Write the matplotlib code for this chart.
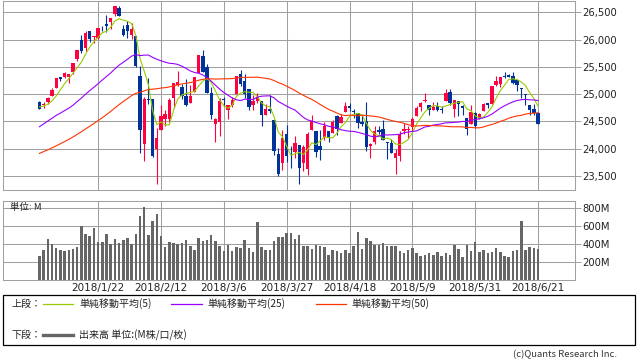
import numpy as np
import pandas as pd
import matplotlib
matplotlib.use("Agg")
import matplotlib.pyplot as plt
from matplotlib.patches import Rectangle
from matplotlib.lines import Line2D
from matplotlib.ticker import FuncFormatter

# trading days 2017/12/29 - 2018/6/21 (US market holidays removed)
holidays = ["2018-01-01", "2018-01-15", "2018-02-19", "2018-03-30", "2018-05-28"]
dates = [d for d in pd.bdate_range("2017-12-29", "2018-06-21") if d.strftime("%Y-%m-%d") not in holidays]

tick_labels = ["2018/1/22", "2018/2/12", "2018/3/6", "2018/3/27",
               "2018/4/18", "2018/5/9", "2018/5/31", "2018/6/21"]

open_ = [24849.6, 24809.4, 24850.5, 24964.9, 25114.9, 25308.4, 25312.0, 25310.0, 25400.9, 25638.6,
         25987.4, 25850.0, 26149.6, 26046.0, 26025.3, 26214.0, 26290.0, 26313.1, 26466.7, 26584.3,
         26198.5, 26268.2, 26083.0, 26061.8, 25337.8, 24085.2, 24916.0, 24902.3, 23992.7, 24337.8,
         24540.3, 24535.8, 24923.7, 25165.9, 25124.9, 24960.8, 24838.3, 25032.0, 25379.3, 25697.3,
         25495.9, 25024.0, 24456.8, 24497.9, 24910.3, 24707.0, 24795.7, 24998.7, 25373.7, 25240.5,
         25087.7, 24795.1, 24877.7, 24879.6, 24625.5, 24721.5, 24527.2, 23905.9, 23737.1, 24261.8,
         23849.5, 23933.0, 24076.6, 23736.9, 23621.7, 24342.6, 24325.5, 24052.6, 24214.6, 24316.2,
         24295.2, 24601.2, 24468.9, 24674.2, 24789.3, 24690.3, 24654.1, 24488.3, 24508.6, 24049.7,
         24123.1, 24336.2, 24356.6, 24117.3, 24097.6, 23836.2, 23865.6, 24317.7, 24341.4, 24399.2,
         24591.8, 24765.5, 24870.3, 24801.8, 24712.3, 24780.6, 24724.0, 24883.2, 25047.6, 24725.8,
         24877.8, 24784.0, 24557.0, 24458.4, 24647.8, 24542.1, 24687.8, 24828.8, 24823.3, 25165.4,
         25185.9, 25336.6, 25346.6, 25335.9, 25250.5, 25114.0, 25003.9, 24803.1, 24722.3, 24654.7]
high = [24871.3, 24864.2, 24941.9, 25105.9, 25299.8, 25311.0, 25401.3, 25376.4, 25574.7, 25810.0,
        26086.0, 26153.4, 26153.4, 26072.0, 26214.6, 26250.5, 26458.8, 26392.8, 26616.7, 26608.5,
        26275.8, 26338.7, 26306.7, 26061.8, 25520.0, 24946.2, 25293.4, 24903.7, 24382.1, 24797.3,
        24705.7, 24925.9, 25203.0, 25432.4, 25183.3, 25268.2, 25170.1, 25310.0, 25709.3, 25800.4,
        25551.1, 25122.0, 24563.6, 24934.6, 24946.6, 24806.0, 24946.3, 25336.9, 25449.2, 25376.4,
        25090.7, 24984.2, 25029.5, 24880.3, 24817.4, 24984.4, 24527.2, 24017.2, 24337.4, 24439.2,
        24050.3, 24224.5, 24076.6, 24073.8, 24313.0, 24622.7, 24325.5, 24347.1, 24482.7, 24316.2,
        24532.4, 24615.2, 24634.0, 24859.0, 24837.9, 24722.7, 24654.1, 24608.9, 24859.0, 24107.7,
        24418.2, 24411.4, 24534.9, 24117.3, 24186.9, 23996.2, 24333.4, 24479.5, 24412.3, 24586.5,
        24784.7, 24856.2, 25012.4, 24801.8, 24858.1, 24858.5, 24782.2, 25086.5, 25086.5, 24889.9,
        24877.8, 24809.3, 24557.0, 24808.0, 24679.7, 24658.0, 24834.4, 24833.0, 25149.1, 25326.8,
        25317.0, 25402.8, 25366.8, 25404.6, 25255.4, 25114.0, 25003.9, 24803.1, 24817.0, 24671.0]
low = [24719.2, 24741.7, 24825.6, 24963.3, 25112.0, 25235.4, 25294.7, 25201.4, 25366.3, 25609.0,
       25752.1, 25798.8, 25947.0, 25939.3, 26014.4, 26149.3, 26138.9, 26191.8, 26425.7, 26435.3,
       26074.0, 26034.7, 26014.4, 25490.7, 23923.9, 23778.7, 24813.7, 23849.2, 23360.3, 24337.8,
       24421.2, 24490.4, 24753.9, 25149.3, 24910.3, 24785.1, 24838.3, 25032.0, 25379.3, 25401.5,
       25029.2, 24546.2, 24117.3, 24239.3, 24778.0, 24545.6, 24761.1, 24998.7, 25153.4, 24929.6,
       24708.4, 24710.8, 24838.6, 24421.5, 24625.5, 24659.7, 23889.1, 23509.1, 23603.7, 23752.9,
       23644.2, 23837.3, 23344.5, 23590.8, 23522.5, 24342.6, 23857.2, 23793.0, 24154.4, 24126.0,
       24281.3, 24248.6, 24468.9, 24674.2, 24691.2, 24570.6, 24388.1, 24420.1, 23965.3, 23823.6,
       24081.7, 24265.8, 24154.9, 23808.2, 23917.1, 23531.3, 23778.9, 24263.4, 24198.3, 24323.9,
       24591.8, 24693.8, 24862.8, 24609.3, 24705.7, 24691.2, 24662.7, 24883.2, 24797.7, 24579.0,
       24600.9, 24626.0, 24243.4, 24458.4, 24375.3, 24542.1, 24687.8, 24750.0, 24815.0, 25152.1,
       25134.2, 25303.1, 25309.0, 25187.4, 25056.4, 24927.2, 24809.3, 24623.5, 24616.9, 24445.6]
close = [24719.2, 24824.0, 24922.7, 25075.1, 25295.9, 25283.0, 25385.8, 25369.1, 25574.7, 25803.2,
         25792.9, 26115.7, 26017.8, 26071.7, 26214.6, 26210.8, 26252.1, 26392.8, 26616.7, 26439.5,
         26076.9, 26149.4, 26186.7, 25520.9, 24345.8, 24912.8, 24893.4, 23860.5, 24190.9, 24601.3,
         24640.5, 24893.5, 25200.4, 25219.4, 24964.8, 24797.8, 24962.5, 25310.0, 25709.3, 25410.0,
         25029.2, 24609.0, 24538.1, 24874.8, 24884.1, 24801.4, 24895.2, 25335.7, 25178.6, 25007.0,
         24758.1, 24873.7, 24946.5, 24610.9, 24727.3, 24682.3, 23957.9, 23533.2, 24202.6, 23857.7,
         23848.4, 24103.1, 23644.2, 24033.4, 24264.3, 24505.2, 23932.8, 23979.1, 24408.0, 24189.5,
         24483.1, 24360.1, 24573.0, 24786.6, 24748.1, 24664.9, 24462.9, 24448.7, 24024.1, 24083.8,
         24322.3, 24311.2, 24163.2, 24099.1, 23925.0, 23930.2, 24262.5, 24357.3, 24360.2, 24542.5,
         24739.5, 24831.2, 24899.4, 24706.4, 24768.9, 24714.0, 24715.1, 25013.3, 24834.4, 24886.8,
         24811.8, 24753.1, 24361.5, 24667.8, 24415.8, 24635.2, 24813.7, 24800.0, 25146.4, 25241.4,
         25316.5, 25322.3, 25320.7, 25201.2, 25175.3, 25090.5, 24987.5, 24700.2, 24657.8, 24461.7]
# closes before the first candle, only used to start the moving averages
prior_close = [23163, 23329, 23273, 23441, 23329, 23400, 23434, 23348, 23377,
               23436, 23517, 23539, 23549, 23557, 23563, 23462, 23422, 23440, 23409, 23272,
               23458, 23358, 23431, 23591, 23526, 23558, 23580, 23837, 23940, 24272,
               24231, 24290, 24180, 24140, 24212, 24329, 24387, 24504, 24585, 24509,
               24652, 24792, 24754, 24726, 24782, 24754, 24746, 24775, 24838]
# volume in millions
volume = [266, 333, 455, 403, 359, 333, 322, 333, 344, 366,
          603, 514, 492, 581, 422, 422, 514, 403, 463, 411,
          444, 466, 403, 514, 714, 814, 503, 659, 736, 492,
          370, 422, 411, 403, 414, 444, 381, 333, 470, 433,
          444, 503, 437, 381, 326, 392, 326, 366, 355, 444,
          355, 311, 644, 366, 333, 333, 433, 477, 477, 522,
          522, 455, 499, 381, 381, 344, 389, 381, 366, 278,
          333, 322, 300, 333, 300, 381, 533, 344, 466, 433,
          389, 389, 411, 381, 381, 381, 322, 300, 333, 355,
          300, 266, 278, 300, 278, 311, 266, 300, 278, 389,
          344, 255, 389, 322, 422, 311, 333, 300, 311, 355,
          311, 266, 255, 322, 333, 659, 333, 366, 355, 344]

ma_windows = [5, 25, 50]
ma_colors = ["#99cc00", "#9900ff", "#ff3300"]
up_color = "#ff0040"
down_color = "#003399"
grid_color = "#a0a0a0"
jp_font = ["Noto Sans CJK JP", "DejaVu Sans"]

n = len(close)
x = np.arange(n)
o = np.array(open_)
c = np.array(close)
up = c >= o
colors = np.where(up, up_color, down_color)
all_close = pd.Series(prior_close + close, dtype=float)

fig = plt.figure(figsize=(6.38, 3.62), dpi=100)
W, H = 638.0, 362.0


def fx(px):
    return px / W


def fy(py):
    return 1 - py / H


ax = fig.add_axes([fx(3), fy(190.3), (574.5 - 3) / W, (190.3 - 0.7) / H])
axv = fig.add_axes([fx(3), fy(280.3), (574.5 - 3) / W, (280.3 - 201.3) / H])

tick_pos = [i for i, d in enumerate(dates) if "{}/{}/{}".format(d.year, d.month, d.day) in tick_labels]

# ---- price panel ----
ax.vlines(x, low, high, color=colors, lw=0.8, zorder=2)
ax.bar(x, np.maximum(np.abs(c - o), 6), bottom=np.minimum(o, c), width=0.8, color=colors, lw=0, zorder=2)
for w, col in zip(ma_windows, ma_colors):
    ma = all_close.rolling(w).mean().iloc[-n:].values
    ax.plot(x, ma, color=col, lw=0.8, zorder=3)

ax.set_xlim(-8.7, 127.7)
ax.set_ylim(23238, 26712)
ax.set_yticks(np.arange(23500, 26501, 500))
ax.yaxis.set_major_formatter(FuncFormatter(lambda v, p: "{:,.0f}".format(v)))
ax.yaxis.tick_right()
ax.set_xticks(tick_pos)
ax.set_xticklabels([])
ax.tick_params(axis="x", length=0)
ax.tick_params(axis="y", direction="out", length=4.3, width=0.7, color=grid_color,
               labelsize=7.2, pad=1.5, labelcolor="#222222")
ax.grid(True, color=grid_color, lw=0.75)
ax.set_axisbelow(True)
for s in ax.spines.values():
    s.set_color(grid_color)
    s.set_linewidth(0.75)

# ---- volume panel ----
axv.bar(x, volume, width=0.6, color="#666666", lw=0, zorder=2)
axv.set_xlim(-8.7, 127.7)
axv.set_ylim(0, 878)
axv.set_yticks([200, 400, 600, 800])
axv.set_yticklabels(["200M", "400M", "600M", "800M"])
axv.yaxis.tick_right()
axv.set_xticks(tick_pos)
axv.set_xticklabels(tick_labels)
axv.tick_params(axis="x", length=0, labelsize=7.5, pad=2, labelcolor="#222222")
axv.tick_params(axis="y", direction="out", length=4.3, width=0.7, color=grid_color,
                labelsize=7.2, pad=1.5, labelcolor="#222222")
axv.grid(True, color=grid_color, lw=0.75)
axv.set_axisbelow(True)
for s in axv.spines.values():
    s.set_color(grid_color)
    s.set_linewidth(0.75)
axv.text(0.012, 0.928, "単位: M", transform=axv.transAxes, fontsize=6.8,
         va="center", ha="left", family=jp_font, color="#222222")

# ---- legend box ----
fig.add_artist(Rectangle((fx(3), fy(345)), 632 / W, 50 / H, transform=fig.transFigure,
                         fill=False, ec="black", lw=0.9))
row1, row2 = 303.7, 335.3
fig.text(fx(12), fy(row1), "上段：", fontsize=7.2, va="center", family=jp_font, color="#222222")
legend_items = [(43, 73, 79, "単純移動平均(5)"), (171, 202, 207, "単純移動平均(25)"),
                (316, 346, 351, "単純移動平均(50)")]
for (x0, x1, xt, label), col in zip(legend_items, ma_colors):
    fig.add_artist(Line2D([fx(x0), fx(x1)], [fy(row1), fy(row1)], color=col, lw=0.9,
                          transform=fig.transFigure))
    fig.text(fx(xt), fy(row1), label, fontsize=7.2, va="center", family=jp_font, color="#222222")
fig.text(fx(12), fy(row2), "下段：", fontsize=7.2, va="center", family=jp_font, color="#222222")
fig.add_artist(Line2D([fx(43), fx(73)], [fy(row2), fy(row2)], color="#666666", lw=2.4,
                      transform=fig.transFigure))
fig.text(fx(79), fy(row2), "出来高 単位:(M株/口/枚)", fontsize=7.2, va="center",
         family=jp_font, color="#222222")

fig.text(fx(617), fy(355), "(c)Quants Research Inc.", fontsize=6.8, ha="right", va="center",
         family=jp_font, color="#333333")

fig.savefig("out.png", dpi=100)
